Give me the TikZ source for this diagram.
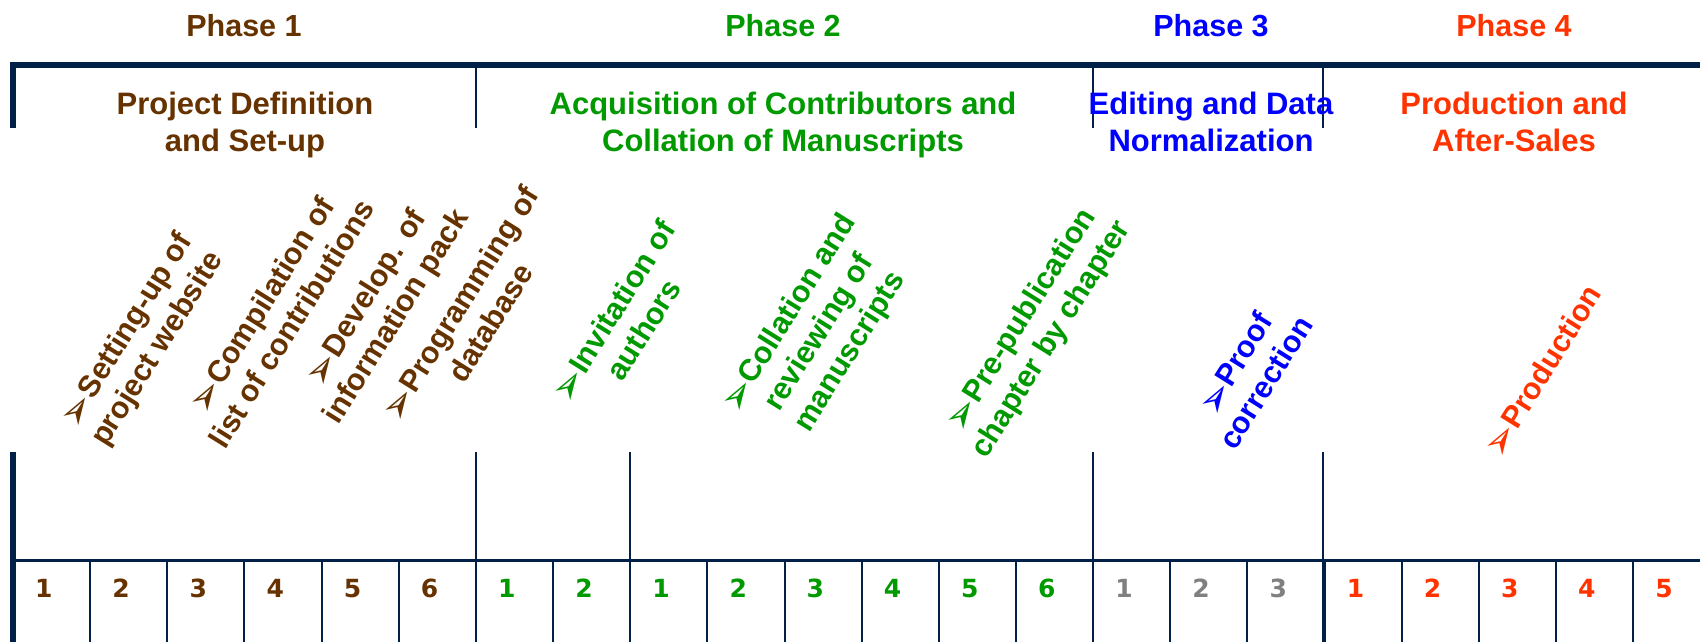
\documentclass[tikz,border=0pt]{standalone}
\usepackage{fontspec}
\setmainfont{Liberation Sans}
\newfontfamily\numfont{DejaVu Sans}
\newfontfamily\symfont{DejaVu Sans}
\definecolor{pbrown}{RGB}{102,51,0}
\definecolor{pgreen}{RGB}{0,153,0}
\definecolor{pblue}{RGB}{0,0,255}
\definecolor{pred}{RGB}{255,51,0}
\definecolor{pgray}{RGB}{128,128,128}
\definecolor{navy}{RGB}{0,32,72}
\newcommand{\ahead}{\raisebox{-5pt}{\smash{\symfont\fontsize{40}{40}\selectfont ➢}}}
\begin{document}
\begin{tikzpicture}[x=1pt,y=-1pt,
  phasetitle/.style={font=\bfseries\fontsize{30.5}{36}\selectfont, anchor=base, inner sep=0},
  subtitle/.style={font=\bfseries\fontsize{31}{37}\selectfont, anchor=base, inner sep=0},
  task/.style={font=\bfseries\fontsize{30.5}{36}\selectfont, align=center, rotate=58, inner sep=0},
  num/.style={font=\numfont\bfseries\fontsize{25}{25}\selectfont, anchor=base west, inner sep=0},
  thickline/.style={draw=navy, line width=6pt},
  midline/.style={draw=navy, line width=3pt},
  thinline/.style={draw=navy, line width=2pt}]
\useasboundingbox (0,0) rectangle (1700,642);

% phase titles
\node[phasetitle, text=pbrown] (ph1) at (244,37) {Phase 1};
\node[phasetitle, text=pgreen] (ph2) at (783,37) {Phase 2};
\node[phasetitle, text=pblue]  (ph3) at (1211,37) {Phase 3};
\node[phasetitle, text=pred]   (ph4) at (1514,37) {Phase 4};

% upper frame
\draw[thickline] (10,65) -- (1700,65);
\draw[thickline] (13,62) -- (13,128);
\foreach \x in {476,1093,1323} \draw[thinline] (\x,66) -- (\x,128);

% subtitles
\node[subtitle, text=pbrown] (s1a) at (245,114) {Project Definition};
\node[subtitle, text=pbrown] (s1b) at (245,151) {and Set-up};
\node[subtitle, text=pgreen] (s2a) at (783,114) {Acquisition of Contributors and};
\node[subtitle, text=pgreen] (s2b) at (783,151) {Collation of Manuscripts};
\node[subtitle, text=pblue]  (s3a) at (1211,114) {Editing and Data};
\node[subtitle, text=pblue]  (s3b) at (1211,151) {Normalization};
\node[subtitle, text=pred]   (s4a) at (1514,114) {Production and};
\node[subtitle, text=pred]   (s4b) at (1514,151) {After-Sales};

% tasks
\node[task, text=pbrown] (t1) at (143,340) {\ahead Setting-up of\\project website};
\node[task, text=pbrown] (t2) at (276,314) {\ahead Compilation of\\list of contributions};
\node[task, text=pbrown] (t3) at (382,308) {\ahead Develop. of\\information pack};
\node[task, text=pbrown] (t4) at (475,313) {\ahead Programming of\\database};
\node[task, text=pgreen] (t5) at (628,320) {\ahead Invitation of\\authors};
\node[task, text=pgreen] (t6) at (820,333) {\ahead Collation and\\reviewing of\\manuscripts};
\node[task, text=pgreen] (t7) at (1037,330) {\ahead Pre-publication\\chapter by chapter};
\node[task, text=pblue]  (t8) at (1250,373) {\ahead Proof\\correction};
\node[task, text=pred]   (t9) at (1544,372) {\ahead Production};

% lower frame
\draw[midline] (10,560) -- (1700,560);
\draw[thickline] (13,452) -- (13,642);
\foreach \x in {476,630,1093,1323} \draw[thinline] (\x,452) -- (\x,642);
\foreach \k in {1,...,21} \draw[thinline] ({13+77.15*\k},560) -- ({13+77.15*\k},642);

% numbers
\foreach \k/\n/\c in {0/1/pbrown,1/2/pbrown,2/3/pbrown,3/4/pbrown,4/5/pbrown,5/6/pbrown,
  6/1/pgreen,7/2/pgreen,8/1/pgreen,9/2/pgreen,10/3/pgreen,11/4/pgreen,12/5/pgreen,13/6/pgreen,
  14/1/pgray,15/2/pgray,16/3/pgray,
  17/1/pred,18/2/pred,19/3/pred,20/4/pred,21/5/pred}
  \node[num, text=\c] (n\k) at ({35+77.15*\k},597) {\n};
\end{tikzpicture}
\end{document}
